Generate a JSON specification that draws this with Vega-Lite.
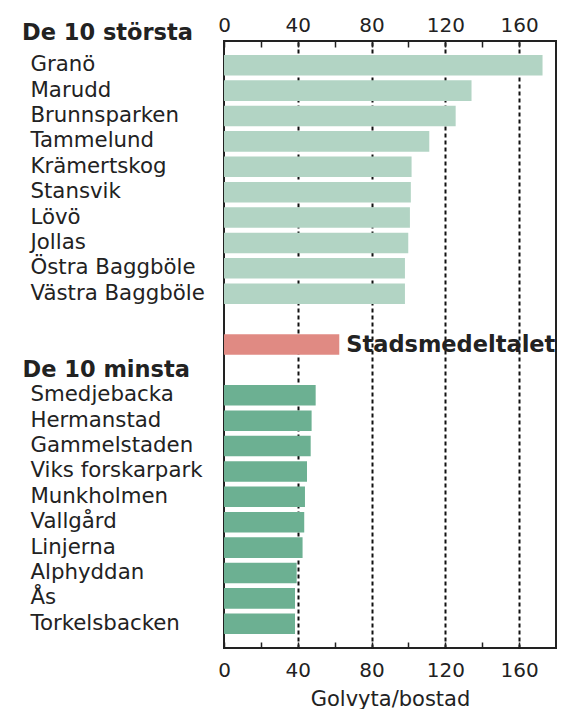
{
  "$schema": "https://vega.github.io/schema/vega-lite/v6.json",
  "width": 332,
  "height": 607,
  "autosize": "none",
  "padding": {"left": 224, "top": 41, "right": 13, "bottom": 61},
  "title": {"text": "De 10 största", "anchor": "start", "frame": "bounds", "fontSize": 22.5, "fontWeight": "bold", "color": "#222", "font": "DejaVu Sans", "baseline": "alphabetic", "offset": -47},
  "config": {"font": "DejaVu Sans", "view": {"stroke": "#222", "strokeWidth": 2}},
  "data": {"values": [
    {"namn": "Granö", "yta": 172.7, "grupp": "största"},
    {"namn": "Marudd", "yta": 134.2, "grupp": "största"},
    {"namn": "Brunnsparken", "yta": 125.6, "grupp": "största"},
    {"namn": "Tammelund", "yta": 111.3, "grupp": "största"},
    {"namn": "Krämertskog", "yta": 101.7, "grupp": "största"},
    {"namn": "Stansvik", "yta": 101.3, "grupp": "största"},
    {"namn": "Lövö", "yta": 100.8, "grupp": "största"},
    {"namn": "Jollas", "yta": 99.9, "grupp": "största"},
    {"namn": "Östra Baggböle", "yta": 98.1, "grupp": "största"},
    {"namn": "Västra Baggböle", "yta": 98.1, "grupp": "största"},
    {"namn": "Stadsmedeltalet", "yta": 62.5, "grupp": "medel"},
    {"namn": "Smedjebacka", "yta": 49.7, "grupp": "minsta"},
    {"namn": "Hermanstad", "yta": 47.5, "grupp": "minsta"},
    {"namn": "Gammelstaden", "yta": 47.0, "grupp": "minsta"},
    {"namn": "Viks forskarpark", "yta": 45.0, "grupp": "minsta"},
    {"namn": "Munkholmen", "yta": 43.9, "grupp": "minsta"},
    {"namn": "Vallgård", "yta": 43.5, "grupp": "minsta"},
    {"namn": "Linjerna", "yta": 42.6, "grupp": "minsta"},
    {"namn": "Alphyddan", "yta": 39.4, "grupp": "minsta"},
    {"namn": "Ås", "yta": 38.5, "grupp": "minsta"},
    {"namn": "Torkelsbacken", "yta": 38.5, "grupp": "minsta"}
  ]},
  "encoding": {
    "y": {
      "field": "namn", "type": "nominal",
      "scale": {"domain": ["Granö", "Marudd", "Brunnsparken", "Tammelund", "Krämertskog", "Stansvik", "Lövö", "Jollas", "Östra Baggböle", "Västra Baggböle", " ", "Stadsmedeltalet", "De 10 minsta", "Smedjebacka", "Hermanstad", "Gammelstaden", "Viks forskarpark", "Munkholmen", "Vallgård", "Linjerna", "Alphyddan", "Ås", "Torkelsbacken"], "paddingInner": 0.19, "paddingOuter": 0.55},
      "axis": {
        "title": null, "domain": false, "ticks": false, "grid": false,
        "labelAlign": "left", "labelBaseline": "middle",
        "labelPadding": {"condition": {"test": "datum.value === 'De 10 minsta'", "value": 202}, "value": 194},
        "labelFontWeight": {"condition": {"test": "datum.value === 'De 10 minsta'", "value": "bold"}, "value": "normal"},
        "labelFontSize": {"condition": {"test": "datum.value === 'De 10 minsta'", "value": 22.5}, "value": 21.3},
        "labelColor": "#222", "labelFont": "DejaVu Sans",
        "labelExpr": "datum.value === 'Stadsmedeltalet' ? '' : datum.label",
        "labelLimit": 0
      }
    }
  },
  "layer": [
    {
      "mark": {"type": "bar"},
      "encoding": {
        "x": {
          "field": "yta", "type": "quantitative",
          "scale": {"domain": [0, 180], "nice": false, "zero": true},
          "axis": {
            "orient": "bottom", "title": "Golvyta/bostad", "titleFontSize": 21, "titleFontWeight": "normal", "titleColor": "#222", "titlePadding": 8,
            "values": [0, 20, 40, 60, 80, 100, 120, 140, 160],
            "labelExpr": "datum.value % 40 === 0 ? datum.label : ''",
            "labelFontSize": 20, "labelColor": "#222", "labelPadding": 18, "labelFlush": false, "labelOverlap": false,
            "domain": false, "tickSize": -6, "tickColor": "#222", "tickWidth": 1.5,
            "grid": true, "gridColor": "#111", "gridWidth": 2, "gridDash": [4, 3],
            "gridOpacity": {"condition": {"test": "datum.value % 40 === 0 && datum.value > 0", "value": 1}, "value": 0}
          }
        },
        "color": {"field": "grupp", "type": "nominal", "scale": {"domain": ["största", "medel", "minsta"], "range": ["#b2d4c4", "#e08a83", "#6cb092"]}, "legend": null}
      }
    },
    {
      "transform": [{"filter": "datum.namn === 'Stadsmedeltalet'"}],
      "mark": {"type": "text", "align": "left", "baseline": "middle", "dx": 7, "fontSize": 22.5, "fontWeight": "bold", "color": "#222", "font": "DejaVu Sans"},
      "encoding": {
        "x": {
          "field": "yta", "type": "quantitative",
          "axis": {
            "orient": "top", "title": null,
            "values": [0, 20, 40, 60, 80, 100, 120, 140, 160],
            "labelExpr": "datum.value % 40 === 0 ? datum.label : ''",
            "labelFontSize": 20, "labelColor": "#222", "labelPadding": 12, "labelFlush": false, "labelOverlap": false,
            "domain": false, "tickSize": -6, "tickColor": "#222", "tickWidth": 1.5, "grid": false
          }
        },
        "text": {"field": "namn"}
      }
    }
  ]
}
